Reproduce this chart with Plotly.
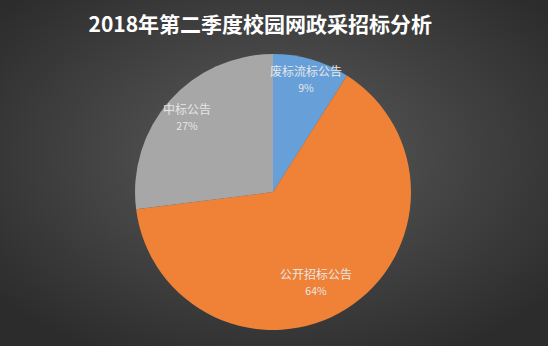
import base64
import math
import plotly.graph_objects as go

title = "2018年第二季度校园网政采招标分析"
labels = ["废标流标公告", "公开招标公告", "中标公告"]
values = [9, 64, 27]
colors = ["#67A0D9", "#EF8237", "#A7A7A7"]
label_radius = [0.86, 0.72, 0.83]   # label distance as fraction of pie radius
label_shift = [0.0, 0.12, 0.0]      # extra angular offset (radians), Excel "best fit"

W, H = 548, 346
dom_x = [0.2464, 0.75]
dom_y = [0.046, 0.844]

svg = f'''<svg xmlns="http://www.w3.org/2000/svg" width="{W}" height="{H}" viewBox="0 0 {W} {H}">
<defs><radialGradient id="g" cx="50%" cy="45%" r="65%">
<stop offset="0%" stop-color="#5c5c5c"/><stop offset="100%" stop-color="#2c2c2c"/>
</radialGradient></defs>
<rect width="{W}" height="{H}" fill="url(#g)"/></svg>'''
bg = "data:image/svg+xml;base64," + base64.b64encode(svg.encode()).decode()

fig = go.Figure(go.Pie(
    labels=labels, values=values, sort=False, direction="clockwise", rotation=0,
    marker=dict(colors=colors, line=dict(width=0)),
    textinfo="none",
    domain=dict(x=dom_x, y=dom_y),
    showlegend=False, hoverinfo="label+percent",
))

cx = (dom_x[0] + dom_x[1]) / 2
cy = (dom_y[0] + dom_y[1]) / 2
R_px = min((dom_x[1] - dom_x[0]) * W, (dom_y[1] - dom_y[0]) * H) / 2
total = sum(values)
start = 0.0
annotations = []
for lab, v, f, s in zip(labels, values, label_radius, label_shift):
    mid = (start + v / 2) / total * 2 * math.pi + s
    start += v
    px = f * R_px * math.sin(mid) / W
    py = f * R_px * math.cos(mid) / H
    pct = round(v / total * 100)
    annotations.append(dict(
        x=cx + px, y=cy + py, xref="paper", yref="paper", showarrow=False,
        text=f"{lab}<br><span style='font-size:10.5px'>{pct}%</span>",
        font=dict(family="Noto Sans CJK SC", size=12, color="#E6E6E6"),
        align="center", xanchor="center", yanchor="middle",
    ))

fig.update_layout(
    width=W, height=H, margin=dict(l=0, r=0, t=0, b=0),
    paper_bgcolor="#3a3a3a", plot_bgcolor="rgba(0,0,0,0)",
    images=[dict(source=bg, xref="paper", yref="paper", x=0, y=1, sizex=1, sizey=1,
                 xanchor="left", yanchor="top", sizing="stretch", layer="below")],
    title=dict(text="<b>" + title + "</b>", x=0.475, xanchor="center", y=0.928, yanchor="middle",
               font=dict(family="Noto Sans CJK SC", size=21, color="#FFFFFF")),
    annotations=annotations,
)
fig.write_html("out.html")
